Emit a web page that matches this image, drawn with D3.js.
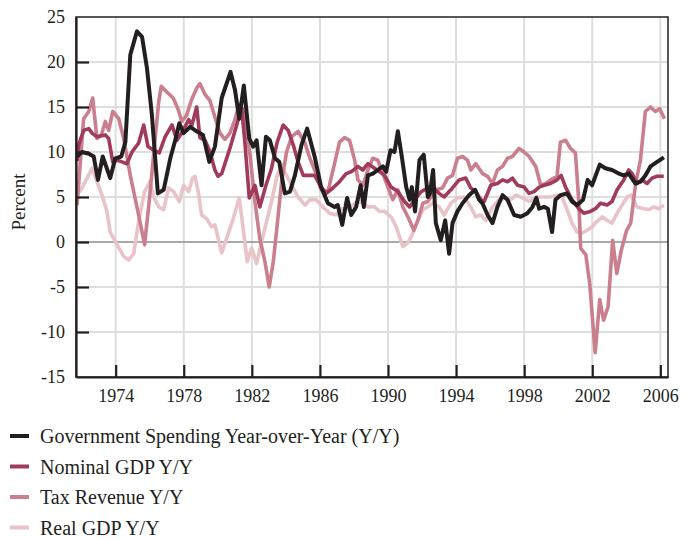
<!DOCTYPE html>
<html>
<head>
<meta charset="utf-8">
<script src="https://cdn.jsdelivr.net/npm/d3@7"></script>
<style>
  body { margin: 0; background: #fff; }
  svg text { font-family: "Liberation Serif", "Times New Roman", serif; fill: #231f20; }
</style>
</head>
<body>
<svg id="chart" width="684" height="539"></svg>
<script>
// series values (year, percent)
var govYears = [1971.73,1972.02,1972.42,1972.71,1972.96,1973.24,1973.68,1973.98,1974.33,1974.57,1974.86,1975.25,1975.55,1975.84,1976.13,1976.48,1976.82,1977.21,1977.50,1977.74,1977.99,1978.38,1978.76,1979.13,1979.50,1979.83,1980.23,1980.75,1981.01,1981.26,1981.53,1981.85,1982.08,1982.28,1982.57,1982.83,1983.06,1983.36,1983.61,1983.94,1984.24,1984.53,1984.92,1985.25,1985.69,1986.07,1986.47,1986.86,1987.05,1987.31,1987.60,1987.84,1988.13,1988.39,1988.58,1988.82,1989.11,1989.40,1989.70,1989.89,1990.15,1990.38,1990.58,1990.81,1991.07,1991.27,1991.40,1991.59,1991.85,1992.10,1992.34,1992.46,1992.65,1992.81,1993.10,1993.36,1993.59,1993.79,1994.08,1994.38,1994.76,1995.12,1995.35,1995.55,1995.85,1996.14,1996.43,1996.73,1997.02,1997.41,1997.80,1998.19,1998.49,1998.72,1998.88,1999.17,1999.39,1999.64,1999.84,2000.13,2000.52,2000.81,2001.11,2001.46,2001.73,2001.99,2002.44,2002.77,2003.16,2003.56,2003.85,2004.14,2004.54,2004.83,2005.12,2005.42,2005.81,2006.21];
var govValues = [9.5,10.0,9.8,9.5,6.9,9.5,7.1,9.3,9.5,11.1,20.8,23.4,22.8,19.3,14.1,5.4,5.8,9.3,11.3,13.2,12.1,12.8,12.3,11.9,8.9,10.6,16.0,18.9,16.9,13.7,17.4,11.5,10.6,11.3,6.3,11.7,11.3,9.3,8.9,5.4,5.6,7.4,10.8,12.6,9.5,6.1,4.3,3.9,4.1,1.9,4.9,3.0,3.9,6.3,3.9,7.4,7.6,8.0,8.4,7.8,10.2,10.0,12.3,9.5,6.1,4.7,6.1,3.4,9.1,9.7,5.0,5.4,8.0,2.1,0.2,2.4,-1.3,2.1,3.4,4.3,5.2,5.8,4.7,4.3,3.0,2.1,3.9,5.2,4.7,3.0,2.8,3.2,3.9,4.9,3.7,3.9,3.7,1.1,4.7,5.2,5.4,4.5,4.1,4.7,6.9,6.3,8.6,8.2,8.0,7.6,7.4,7.6,6.5,6.7,7.4,8.4,8.9,9.4];

var nomYears = [1971.73,1971.83,1972.12,1972.42,1972.61,1972.90,1973.39,1973.59,1973.83,1974.08,1974.37,1974.66,1974.96,1975.35,1975.65,1975.90,1976.23,1976.56,1976.91,1977.31,1977.60,1977.94,1978.29,1978.48,1978.76,1978.95,1979.25,1979.54,1979.83,1980.01,1980.23,1980.71,1981.11,1981.40,1981.59,1981.85,1982.18,1982.47,1982.83,1983.16,1983.49,1983.84,1984.14,1984.43,1984.72,1985.02,1985.31,1985.69,1986.07,1986.37,1986.76,1987.15,1987.54,1987.84,1988.23,1988.52,1988.82,1989.21,1989.80,1990.18,1990.58,1990.97,1991.27,1991.56,1991.95,1992.34,1992.62,1993.00,1993.30,1993.69,1994.18,1994.57,1994.86,1995.16,1995.45,1995.65,1996.04,1996.43,1996.73,1997.02,1997.31,1997.61,1998.00,1998.29,1998.58,1998.88,1999.17,1999.55,1999.93,2000.17,2000.43,2000.81,2001.21,2001.50,2001.89,2002.19,2002.48,2002.87,2003.16,2003.46,2003.85,2004.14,2004.34,2004.63,2004.92,2005.22,2005.51,2005.80,2006.20];
var nomValues = [9.0,10.8,12.4,12.6,12.1,11.7,11.9,11.5,8.9,9.1,8.9,8.7,10.0,11.0,13.0,10.6,10.2,9.9,11.7,13.0,11.3,12.3,13.6,13.0,15.0,11.6,11.3,10.0,8.0,7.3,7.6,10.4,13.0,14.9,11.1,4.9,6.3,3.9,6.3,8.2,11.1,13.0,12.4,10.8,8.9,7.4,7.4,7.4,6.1,5.4,6.0,6.7,7.6,7.8,8.4,8.0,8.7,8.2,7.4,6.1,5.6,4.5,3.9,4.7,5.6,6.0,6.1,5.4,5.0,5.8,6.9,7.1,6.0,5.6,4.7,4.5,6.3,6.5,6.9,6.7,7.1,6.3,6.1,5.4,5.6,6.1,6.3,6.5,6.9,7.4,6.1,4.7,3.7,3.2,3.4,3.7,4.3,4.1,4.5,5.8,6.9,8.0,7.6,6.5,6.9,6.5,7.1,7.3,7.3];

var taxYears = [1971.73,1972.12,1972.42,1972.65,1972.90,1973.16,1973.39,1973.59,1973.83,1974.18,1974.47,1974.86,1975.35,1975.70,1975.97,1976.23,1976.53,1976.68,1976.99,1977.38,1977.68,1977.88,1978.17,1978.46,1978.76,1978.95,1979.25,1979.54,1979.83,1980.13,1980.42,1980.71,1981.01,1981.26,1981.53,1981.89,1982.18,1982.47,1982.77,1983.02,1983.26,1983.49,1983.75,1984.04,1984.34,1984.72,1985.12,1985.41,1985.69,1986.07,1986.47,1986.86,1987.15,1987.45,1987.74,1988.04,1988.23,1988.52,1988.82,1989.11,1989.40,1989.70,1989.99,1990.28,1990.58,1990.87,1991.17,1991.52,1991.75,1992.05,1992.34,1992.52,1992.81,1993.20,1993.50,1993.79,1994.08,1994.38,1994.67,1994.86,1995.16,1995.55,1995.85,1996.14,1996.43,1996.73,1997.02,1997.31,1997.70,1998.00,1998.29,1998.68,1998.97,1999.27,1999.55,1999.93,2000.13,2000.43,2000.72,2001.01,2001.21,2001.32,2001.62,2001.85,2002.17,2002.44,2002.67,2002.93,2003.20,2003.44,2003.71,2004.02,2004.26,2004.55,2004.83,2005.12,2005.42,2005.71,2005.96,2006.24];
var taxValues = [4.1,13.7,14.5,16.0,11.5,11.9,13.4,12.4,14.5,13.7,11.5,7.4,3.0,-0.3,4.5,9.7,15.6,17.3,16.7,16.0,14.7,13.4,14.1,15.8,17.1,17.6,16.4,15.7,13.9,12.1,11.4,12.1,13.6,15.3,14.5,9.7,4.5,0.4,-2.2,-5.0,-2.2,1.9,6.7,10.0,11.7,12.3,11.0,9.3,8.0,5.8,5.6,8.7,11.1,11.6,11.3,9.1,6.9,6.3,8.0,9.3,9.1,7.6,6.1,4.7,5.8,3.9,2.8,1.3,2.4,4.3,4.5,5.0,5.8,6.0,7.1,7.4,9.3,9.5,9.1,8.0,8.7,7.6,7.3,6.5,8.0,8.4,9.3,9.5,10.4,10.0,9.5,8.4,6.3,6.5,6.9,7.3,11.1,11.3,10.4,9.9,4.5,-0.7,-1.4,-4.6,-12.3,-6.4,-8.7,-7.2,0.2,-3.5,-0.9,1.3,2.1,6.5,9.1,14.5,15.0,14.5,14.8,13.7];

var realYears = [1971.73,1972.02,1972.32,1972.61,1972.90,1973.20,1973.49,1973.68,1974.08,1974.47,1974.76,1975.06,1975.35,1975.70,1976.02,1976.23,1976.53,1976.82,1977.11,1977.41,1977.74,1977.99,1978.29,1978.52,1978.66,1978.85,1979.05,1979.34,1979.64,1979.83,1980.23,1980.52,1980.91,1981.26,1981.49,1981.73,1981.99,1982.28,1982.57,1982.87,1983.16,1983.49,1983.75,1984.04,1984.34,1984.72,1985.12,1985.41,1985.78,1986.17,1986.56,1986.96,1987.25,1987.64,1988.04,1988.42,1988.82,1989.21,1989.50,1989.80,1990.18,1990.48,1990.87,1991.17,1991.46,1991.75,1992.05,1992.34,1992.62,1993.00,1993.30,1993.69,1994.08,1994.47,1994.86,1995.16,1995.45,1995.75,1996.14,1996.53,1996.92,1997.21,1997.51,1997.90,1998.29,1998.68,1999.07,1999.55,1999.93,2000.23,2000.52,2000.81,2001.11,2001.40,2001.70,2001.99,2002.28,2002.58,2002.87,2003.16,2003.46,2003.75,2004.05,2004.28,2004.63,2005.03,2005.32,2005.62,2005.91,2006.20];
var realValues = [5.2,6.0,7.1,8.2,6.7,5.2,3.4,1.1,-0.3,-1.6,-2.0,-1.3,2.3,5.6,6.7,5.0,3.9,3.6,6.0,5.6,4.5,6.3,5.6,7.1,7.3,5.6,3.0,2.6,1.7,1.9,-1.2,0.4,2.6,4.9,1.5,-2.2,-0.7,-2.4,0.0,2.3,4.5,7.4,8.6,7.4,6.3,5.0,4.1,4.7,4.7,3.9,3.2,3.0,3.7,3.7,4.3,4.5,3.9,3.9,3.4,3.4,2.8,1.7,-0.5,-0.1,1.0,2.4,3.6,3.9,4.3,3.9,3.0,4.3,4.9,5.0,3.9,2.8,3.0,2.4,3.9,4.7,4.9,4.7,5.2,4.9,4.5,5.0,5.0,5.0,5.2,5.0,3.6,2.1,1.1,1.0,1.3,1.7,2.3,2.8,2.4,2.1,3.2,4.1,5.0,5.2,3.9,3.7,3.6,3.9,3.7,4.1];

var seriesNames = ["Government Spending Year-over-Year (Y/Y)", "Nominal GDP Y/Y", "Tax Revenue Y/Y", "Real GDP Y/Y"];
var yTicks = [-15, -10, -5, 0, 5, 10, 15, 20, 25];
var xTicks = [1974, 1978, 1982, 1986, 1990, 1994, 1998, 2002, 2006];

var series = [
  {name: seriesNames[0], years: govYears, values: govValues, color: "#231f20", width: 4},
  {name: seriesNames[1], years: nomYears, values: nomValues, color: "#a13b5b", width: 3.6},
  {name: seriesNames[2], years: taxYears, values: taxValues, color: "#c97f8d", width: 3.6},
  {name: seriesNames[3], years: realYears, values: realValues, color: "#e8c3c7", width: 3.6}
];

var svg = d3.select("#chart");
var plotLeft = 76, plotRight = 668, plotTop = 17, plotBottom = 377;

var x = d3.scaleLinear().domain([1971.67, 2006.45]).range([plotLeft, plotRight]);
var y = d3.scaleLinear().domain([-15, 25]).range([plotBottom, plotTop]);

// grid
var grid = svg.append("g");
grid.selectAll(".hg")
    .data(yTicks.filter(function(d) { return d > -15 && d < 25 && d !== 0; }))
  .enter().append("line")
    .attr("x1", plotLeft).attr("x2", plotRight)
    .attr("y1", function(d) { return y(d); }).attr("y2", function(d) { return y(d); })
    .style("stroke", "#dedede").style("stroke-width", 2);
grid.selectAll(".vg")
    .data(xTicks)
  .enter().append("line")
    .attr("y1", plotTop).attr("y2", plotBottom)
    .attr("x1", function(d) { return x(d); }).attr("x2", function(d) { return x(d); })
    .style("stroke", "#dedede").style("stroke-width", 2);
grid.append("line")
    .attr("x1", plotLeft).attr("x2", plotRight)
    .attr("y1", y(0)).attr("y2", y(0))
    .style("stroke", "#8c8c8c").style("stroke-width", 1.6);

// lines, lightest underneath
var line = d3.line()
    .x(function(d) { return x(d[0]); })
    .y(function(d) { return y(d[1]); });

series.slice().reverse().forEach(function(s) {
  svg.append("path")
      .datum(d3.zip(s.years, s.values))
      .attr("d", line)
      .style("fill", "none")
      .style("stroke", s.color)
      .style("stroke-width", s.width)
      .style("stroke-linejoin", "round")
      .style("stroke-linecap", "butt");
});

// frame
svg.append("rect")
    .attr("x", plotLeft).attr("y", plotTop)
    .attr("width", plotRight - plotLeft).attr("height", plotBottom - plotTop)
    .style("fill", "none").style("stroke", "#231f20").style("stroke-width", 1.5);

// axes with inward ticks
var yAxis = svg.append("g")
    .attr("transform", "translate(" + plotLeft + ",0)")
    .call(d3.axisLeft(y).tickValues(yTicks).tickFormat(function(d) { return String(d); })
      .tickSize(-13).tickSizeOuter(0).tickPadding(11));
var xAxis = svg.append("g")
    .attr("transform", "translate(0," + plotBottom + ")")
    .call(d3.axisBottom(x).tickValues(xTicks).tickFormat(d3.format("d"))
      .tickSize(-12).tickSizeOuter(0).tickPadding(12));

[yAxis, xAxis].forEach(function(a) {
  a.attr("font-family", null).attr("font-size", null);
  a.select(".domain").style("stroke", "#231f20").style("stroke-width", 2.2);
  a.selectAll(".tick line").style("stroke", "#231f20").style("stroke-width", 2.2);
  a.selectAll(".tick text").style("font-size", "18px").style("fill", "#231f20");
});
yAxis.selectAll(".tick").filter(function(d) { return d === -15 || d === 25; }).select("line").remove();

svg.append("text")
    .attr("transform", "translate(25,202) rotate(-90)")
    .attr("text-anchor", "middle")
    .style("font-size", "19px")
    .text("Percent");

// legend
var legend = svg.append("g");
var rows = legend.selectAll("g")
    .data(series)
  .enter().append("g")
    .attr("transform", function(d, i) { return "translate(0," + (436 + i * 30.5) + ")"; });
rows.append("line")
    .attr("x1", 10).attr("x2", 29)
    .style("stroke", function(d) { return d.color; })
    .style("stroke-width", 4);
rows.append("text")
    .attr("x", 40).attr("dy", "0.35em")
    .style("font-size", "20px")
    .text(function(d) { return d.name; });
</script>
</body>
</html>
